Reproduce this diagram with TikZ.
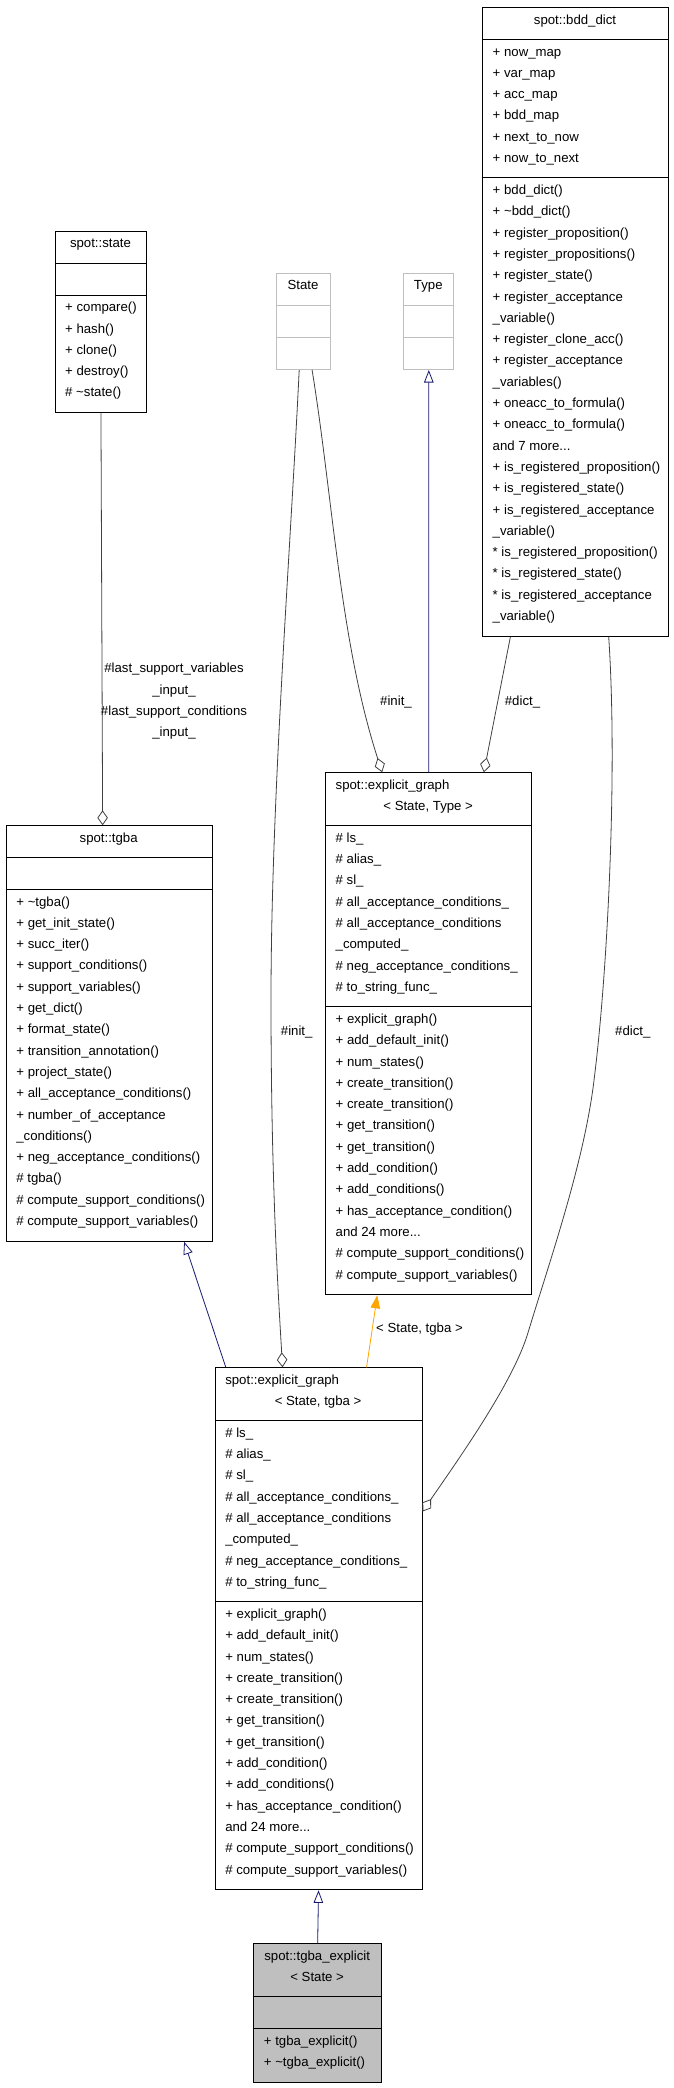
\documentclass[tikz,border=0pt]{standalone}
\usepackage{fontspec}
\setmainfont{Liberation Sans}
\usepackage{tikz}
\usetikzlibrary{arrows.meta}
\definecolor{navy}{HTML}{191970}
\definecolor{instorange}{HTML}{FFA500}
\definecolor{agggray}{HTML}{404040}
\definecolor{tplgray}{HTML}{BFBFBF}
\definecolor{focusgray}{HTML}{BFBFBF}
\newcommand{\umlsize}{\fontsize{13.2pt}{16pt}\selectfont}
\tikzset{
	classbox/.style={draw, line width=1pt, anchor=north west, inner sep=0pt, fill=white},
	tplbox/.style={classbox, draw=tplgray},
	focusbox/.style={classbox, fill=focusgray},
	divider/.style={line width=1pt},
	member/.style={anchor=base west, inner sep=0pt, font=\umlsize},
	heading/.style={anchor=base, inner sep=0pt, font=\umlsize},
	edgetext/.style={anchor=base, inner sep=0pt, font=\umlsize},
	agg/.style={draw=agggray, line width=0.8pt, -{Diamond[open, length=15pt, width=10.5pt]}},
	inherit/.style={draw=navy, line width=0.8pt, -{Triangle[open, length=12.5pt, width=9.5pt]}},
	inst/.style={draw=instorange, line width=0.8pt, -{Triangle[length=13pt, width=9.5pt]}}
}

\begin{document}
\begin{tikzpicture}[x=1pt, y=-1pt]
	\useasboundingbox (0,0) rectangle (673,2088);
	% spot::bdd_dict
	\node[classbox, minimum width=186pt, minimum height=628.5pt] (bdd) at (482,7.3) {};
	\node[heading] (bdd-t) at (575,24) {spot::bdd\_dict};
	\draw[divider] ([yshift=-32pt]bdd.north west) -- ([yshift=-32pt]bdd.north east);
	\draw[divider] ([yshift=-170.5pt]bdd.north west) -- ([yshift=-170.5pt]bdd.north east);
	\foreach \m [count=\i] in {+ now\_map, + var\_map, + acc\_map, + bdd\_map, + next\_to\_now, + now\_to\_next}
		\node[member] (bdd-a\i) at (492.5, {56+21.3*(\i-1)}) {\m};
	\foreach \m [count=\i] in {+ bdd\_dict(), + \textasciitilde bdd\_dict(), + register\_proposition(), + register\_propositions(), + register\_state(), + register\_acceptance, \_variable(), + register\_clone\_acc(), + register\_acceptance, \_variables(), + oneacc\_to\_formula(), + oneacc\_to\_formula(), {and 7 more.{}.{}.}, + is\_registered\_proposition(), + is\_registered\_state(), + is\_registered\_acceptance, \_variable(), * is\_registered\_proposition(), * is\_registered\_state(), * is\_registered\_acceptance, \_variable()}
		\node[member] (bdd-m\i) at (492.5, {194.5+21.3*(\i-1)}) {\m};
	% spot::state
	\node[classbox, minimum width=91.9pt, minimum height=181.2pt] (st) at (54.5,231) {};
	\node[heading] (st-t) at (100.45,247.7) {spot::state};
	\draw[divider] ([yshift=-32pt]st.north west) -- ([yshift=-32pt]st.north east);
	\draw[divider] ([yshift=-64pt]st.north west) -- ([yshift=-64pt]st.north east);
	\foreach \m [count=\i] in {+ compare(), + hash(), + clone(), + destroy(), \# \textasciitilde state()}
		\node[member] (st-m\i) at (65, {311.7+21.3*(\i-1)}) {\m};
	% template parameters
	\node[tplbox, minimum width=53.2pt, minimum height=96pt] (tstate) at (276.4,273) {};
	\node[heading] (tstate-t) at (303,289.7) {State};
	\node[tplbox, minimum width=49.8pt, minimum height=96pt] (ttype) at (403.4,273) {};
	\node[heading] (ttype-t) at (428.3,289.7) {Type};
	\foreach \b in {tstate, ttype} {
		\draw[divider, tplgray] ([yshift=-32pt]\b.north west) -- ([yshift=-32pt]\b.north east);
		\draw[divider, tplgray] ([yshift=-64pt]\b.north west) -- ([yshift=-64pt]\b.north east);
	}
	% spot::tgba
	\node[classbox, minimum width=205.9pt, minimum height=415.5pt] (tgba) at (5.7,825.3) {};
	\node[heading] (tgba-t) at (108.65,842) {spot::tgba};
	\draw[divider] ([yshift=-32pt]tgba.north west) -- ([yshift=-32pt]tgba.north east);
	\draw[divider] ([yshift=-64pt]tgba.north west) -- ([yshift=-64pt]tgba.north east);
	\foreach \m [count=\i] in {+ \textasciitilde tgba(), + get\_init\_state(), + succ\_iter(), + support\_conditions(), + support\_variables(), + get\_dict(), + format\_state(), + transition\_annotation(), + project\_state(), + all\_acceptance\_conditions(), + number\_of\_acceptance, \_conditions(), + neg\_acceptance\_conditions(), \# tgba(), \# compute\_support\_conditions(), \# compute\_support\_variables()}
		\node[member] (tgba-m\i) at (16.2, {906+21.3*(\i-1)}) {\m};
	% spot::explicit_graph, both instances
	\node[classbox, minimum width=206.3pt, minimum height=522pt] (eg1) at (325,772.3) {};
	\node[member] (eg1-t1) at (335.5,789) {spot::explicit\_graph};
	\node[heading] (eg1-t2) at (428.15,810.3) {< State, Type >};
	\node[classbox, minimum width=206.9pt, minimum height=522pt] (eg2) at (214.6,1367.3) {};
	\node[member] (eg2-t1) at (225.1,1384) {spot::explicit\_graph};
	\node[heading] (eg2-t2) at (318.05,1405.3) {< State, tgba >};
	\foreach \g/\gx/\gy in {eg1/335.5/842.3, eg2/225.1/1437.3} {
		\draw[divider] ([yshift=-53.3pt]\g.north west) -- ([yshift=-53.3pt]\g.north east);
		\draw[divider] ([yshift=-234.4pt]\g.north west) -- ([yshift=-234.4pt]\g.north east);
		\foreach \m [count=\i] in {\# ls\_, \# alias\_, \# sl\_, \# all\_acceptance\_conditions\_, \# all\_acceptance\_conditions, \_computed\_, \# neg\_acceptance\_conditions\_, \# to\_string\_func\_}
			\node[member] (\g-a\i) at (\gx, {\gy+21.3*(\i-1)}) {\m};
		\foreach \m [count=\i] in {+ explicit\_graph(), + add\_default\_init(), + num\_states(), + create\_transition(), + create\_transition(), + get\_transition(), + get\_transition(), + add\_condition(), + add\_conditions(), + has\_acceptance\_condition(), {and 24 more.{}.{}.}, \# compute\_support\_conditions(), \# compute\_support\_variables()}
			\node[member] (\g-m\i) at (\gx, {\gy+181.1+21.3*(\i-1)}) {\m};
	}
	% spot::tgba_explicit
	\node[focusbox, minimum width=127.9pt, minimum height=138.6pt] (tex) at (253.2,1943.3) {};
	\node[heading] (tex-t1) at (317.15,1960) {spot::tgba\_explicit};
	\node[heading] (tex-t2) at (317.15,1981.3) {< State >};
	\draw[divider] ([yshift=-53.3pt]tex.north west) -- ([yshift=-53.3pt]tex.north east);
	\draw[divider] ([yshift=-85.3pt]tex.north west) -- ([yshift=-85.3pt]tex.north east);
	\foreach \m [count=\i] in {+ tgba\_explicit(), + \textasciitilde tgba\_explicit()}
		\node[member] (tex-m\i) at (263.7, {2045.3+21.3*(\i-1)}) {\m};
	% connectors
	\draw[agg] (st.south) -- ([xshift=-6.5pt]tgba.north);
	\draw[agg] ([xshift=8.6pt]tstate.south) .. controls (333,499) and (340,642) .. ([xshift=-46.5pt]eg1.north);
	\draw[agg] ([xshift=-4.3pt]tstate.south) .. controls (290,560) and (271,800) .. (271,1000) .. controls (271,1180) and (278,1290) .. ([xshift=-36pt]eg2.north);
	\draw[agg] ([xshift=-65.1pt]bdd.south) -- ([xshift=55.2pt]eg1.north);
	\draw[agg] ([xshift=33.2pt]bdd.south) .. controls (618,776) and (606.9,977) .. (594.4,1077) .. controls (585,1160) and (550,1260) .. (527.9,1333) .. controls (512.9,1383) and (457.2,1461) .. ([yshift=117.3pt]eg2.east);
	\draw[inherit] (eg1.north) -- (ttype.south);
	\draw[inherit] ([xshift=-92.75pt]eg2.north) -- ([xshift=75pt]tgba.south);
	\draw[inst] ([xshift=48pt]eg2.north) -- ([xshift=-51.4pt]eg1.south);
	\draw[inherit] (tex.north) -- (eg2.south);
	% connector labels
	\foreach \t [count=\i] in {\#last\_support\_variables, \_input\_, \#last\_support\_conditions, \_input\_}
		\node[edgetext] (last\i) at (174, {672.7+21.3*(\i-1)}) {\t};
	\node[edgetext] (init1) at (396,705) {\#init\_};
	\node[edgetext] (dict1) at (522.5,705) {\#dict\_};
	\node[edgetext] (init2) at (296.7,1035) {\#init\_};
	\node[edgetext] (dict2) at (632.8,1035) {\#dict\_};
	\node[edgetext] (tpl) at (419.5,1332.3) {< State, tgba >};
\end{tikzpicture}
\end{document}
